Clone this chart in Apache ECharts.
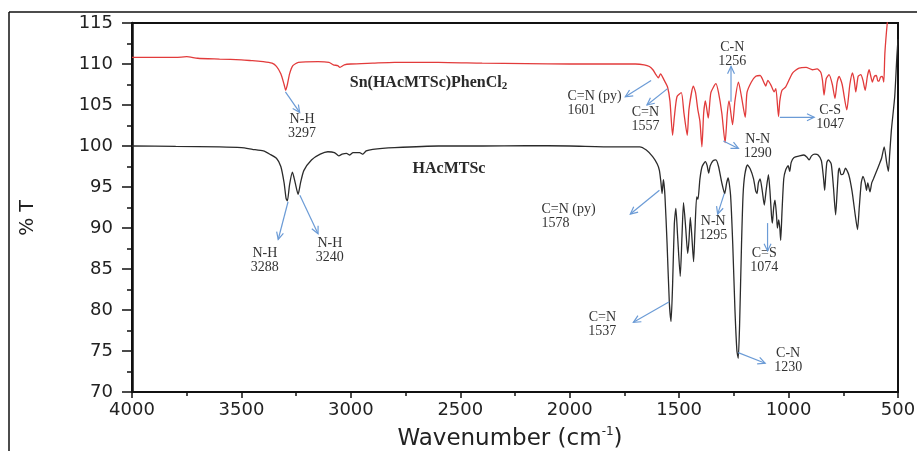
<!DOCTYPE html>
<html>
<head>
<meta charset="utf-8">
<script src="https://cdn.jsdelivr.net/npm/echarts@6/dist/echarts.min.js"></script>
<style>
  html, body { margin: 0; padding: 0; background: #fff; }
  #irChart { width: 917px; height: 451px; }
</style>
</head>
<body>
<div id="irChart"></div>
<script>
// IR spectra: wavenumber (cm-1) and %T
const complexWave = [4000, 3900, 3800, 3750, 3700, 3600, 3500, 3450, 3400, 3360, 3340, 3320, 3305, 3298, 3290, 3280, 3265, 3240,
  3150, 3100, 3080, 3060, 3050, 3030, 3000, 2900, 2800, 2600, 2400, 2200, 2000, 1800, 1700, 1660, 1636, 1620, 1606, 1595,
  1585, 1568, 1553, 1542, 1530, 1522, 1510, 1490, 1478, 1463, 1455, 1435, 1425, 1415, 1405, 1396, 1388, 1380, 1367, 1355,
  1332, 1320, 1305, 1290, 1280, 1272, 1256, 1245, 1229, 1215, 1198, 1190, 1170, 1150, 1130, 1110, 1104, 1095, 1080, 1066,
  1058, 1046, 1040, 1030, 1013, 982, 952, 920, 891, 870, 853, 845, 838, 828, 815, 800, 788, 778, 769, 755, 734, 720, 708,
  700, 693, 682, 670, 660, 650, 640, 632, 625, 617, 608, 599, 593, 587, 580, 572, 565, 560, 549, 540];
const complexT = [110.8, 110.8, 110.8, 110.9, 110.7, 110.6, 110.5, 110.4, 110.3, 110.1, 109.7, 108.8, 107.5, 106.8, 107.5, 108.8, 109.8, 110.2,
  110.3, 110.2, 109.9, 109.8, 109.6, 109.9, 110.0, 110.1, 110.2, 110.2, 110.1, 110.05, 110.0, 110.0, 110.0, 109.9, 109.7, 109.3, 108.7, 108.3,
  108.8, 108.0, 107.2, 105.5, 101.3, 103.5, 106.0, 106.5, 104.0, 101.3, 104.5, 107.3, 106.5, 104.5, 103.0, 99.9, 104.0, 105.5, 103.4, 106.5,
  107.6, 106.5, 104.0, 100.4, 104.0, 105.5, 102.6, 105.5, 107.8, 106.0, 103.5, 106.5, 107.8, 108.5, 108.6, 107.6, 107.3, 108.0, 107.4, 106.6,
  107.0, 103.6, 105.5, 106.8, 107.2, 108.9, 109.5, 109.6, 109.3, 109.4, 109.0, 108.0, 106.2, 108.2, 108.7, 107.5, 105.8, 107.8, 108.5, 107.5, 104.4, 107.5, 108.9,
  108.0, 106.6, 108.5, 108.7, 108.0, 106.8, 108.5, 109.3, 108.6, 107.8, 108.5, 108.6, 108.0, 107.9, 108.4, 108.5, 107.8, 111.3, 115.0, 117.0];

const ligandWave = [4000, 3800, 3600, 3500, 3450, 3400, 3370, 3340, 3320, 3305, 3296, 3290, 3280, 3267, 3255, 3241, 3230, 3215,
  3180, 3140, 3105, 3075, 3055, 3040, 3020, 3005, 2990, 2960, 2945, 2930, 2900, 2800, 2600, 2400, 2200, 2000, 1800, 1680,
  1650, 1621, 1600, 1590, 1583, 1578, 1572, 1565, 1555, 1545, 1537, 1530, 1522, 1515, 1507, 1495, 1487, 1480, 1470, 1461,
  1455, 1449, 1442, 1434, 1428, 1420, 1414, 1405, 1395, 1380, 1372, 1365, 1358, 1345, 1332, 1320, 1305, 1292, 1283, 1276,
  1265, 1255, 1245, 1236, 1230, 1224, 1215, 1208, 1200, 1188, 1175, 1160, 1150, 1144, 1138, 1130, 1120, 1111, 1103, 1092,
  1085, 1078, 1074, 1068, 1062, 1055, 1051, 1045, 1040, 1036, 1030, 1022, 1013, 1002, 995, 988, 975, 950, 930, 915, 906,
  895, 880, 865, 850, 840, 835, 830, 825, 818, 805, 795, 785, 778, 772, 768, 760, 750, 740, 725, 710, 695, 685, 677, 668,
  660, 650, 644, 638, 628, 620, 612, 600, 585, 575, 563, 552, 544, 538, 530, 515, 505, 500];
const ligandT = [100.0, 99.95, 99.9, 99.8, 99.6, 99.4, 99.0, 98.5, 97.5, 95.5, 93.6, 93.3, 95.3, 96.8, 95.6, 94.1, 95.5, 97.0,
  98.3, 99.0, 99.3, 99.2, 98.8, 99.0, 99.1, 98.9, 99.2, 99.2, 99.0, 99.4, 99.6, 99.8, 100.0, 100.0, 100.05, 100.0, 99.9, 99.9,
  99.5, 98.7, 97.8, 97.0, 95.5, 94.2, 95.9, 94.0, 88.0, 81.0, 78.6, 83.0, 90.5, 92.4, 89.0, 84.1, 89.0, 93.1, 90.0, 86.9,
  88.5, 91.3, 89.0, 85.9, 89.5, 93.8, 93.5, 96.0, 97.5, 98.1, 97.6, 96.7, 97.6, 98.2, 98.3, 97.5, 95.5, 94.2, 95.5, 96.1,
  94.0, 88.0, 80.0, 75.0, 74.1, 78.0, 88.0, 94.0, 96.5, 97.7, 97.2, 96.0, 94.5, 94.2, 95.5, 96.0, 94.5, 92.8, 94.5, 96.5,
  94.5, 91.5, 90.6, 92.5, 93.4, 91.5, 90.0, 91.0, 90.0, 88.5, 92.0, 96.0, 97.1, 97.6, 96.9, 98.0, 98.6, 98.8, 98.9, 98.6, 98.3,
  98.8, 99.0, 98.9, 98.2, 96.0, 94.6, 96.5, 98.0, 98.3, 97.8, 95.0, 91.6, 94.5, 97.0, 97.3, 96.5, 96.6, 97.3, 96.5, 94.5, 91.5, 89.8, 92.5, 95.5,
  96.3, 95.5, 94.6, 95.5, 94.4, 95.5, 96.0, 96.8, 97.8, 98.5, 99.9, 98.0, 96.9, 99.0, 102.0, 106.0, 111.0, 113.0];

const xTicks = [500, 4000, 500];   // min, max, interval (axis is reversed)
const yTicks = [70, 115, 5];

// band labels: text, label position (wavenumber, %T), align, arrow from, arrow to
const bandLabels = [
  ['N-H\n3297', 3223, 102.4, 'center', [3299, 106.6], [3234, 104.1]],
  ['N-H\n3288', 3393, 86.0, 'center', [3287, 93.2], [3332, 88.6]],
  ['N-H\n3240', 3096, 87.3, 'center', [3233, 94.0], [3150, 89.3]],
  ['C=N (py)\n1601', 2010, 105.2, 'left', [1628, 108.0], [1746, 106.0]],
  ['C=N\n1557', 1654, 103.3, 'center', [1553, 107.0], [1647, 105.0]],
  ['C-N\n1256', 1257, 111.2, 'center', [1263, 105.4], [1263, 109.7]],
  ['N-N\n1290', 1141, 99.9, 'center', [1298, 100.6], [1229, 99.7]],
  ['C-S\n1047', 810, 103.5, 'center', [1040, 103.5], [883, 103.5]],
  ['C=N (py)\n1578', 2129, 91.4, 'left', [1590, 94.6], [1723, 91.7]],
  ['C=N\n1537', 1851, 78.2, 'center', [1545, 81.0], [1709, 78.5]],
  ['N-N\n1295', 1344, 89.9, 'center', [1294, 94.2], [1324, 91.7]],
  ['C=S\n1074', 1111, 86.0, 'center', [1096, 90.6], [1096, 87.2]],
  ['C-N\n1230', 1002, 73.9, 'center', [1230, 74.8], [1107, 73.5]]
];

const chartDom = document.getElementById('irChart');
const irChart = echarts.init(chartDom);

const axisFont = 'DejaVu Sans';
const serifFont = 'Liberation Serif';

irChart.setOption({
  animation: false,
  backgroundColor: '#fff',
  grid: {
    left: 132, right: 19, top: 23, bottom: 59,
    show: true, borderColor: '#111', borderWidth: 2,
    containLabel: false, outerBoundsMode: 'none'
  },
  xAxis: {
    type: 'value',
    inverse: true,
    min: xTicks[0], max: xTicks[1], interval: xTicks[2],
    axisLine: {show: true, lineStyle: {color: '#111', width: 2}},
    axisTick: {show: true, inside: false, length: 6, lineStyle: {color: '#111', width: 1.5}},
    minorTick: {show: true, splitNumber: 2, length: 4, lineStyle: {color: '#111', width: 1.5}},
    axisLabel: {color: '#222', fontFamily: axisFont, fontSize: 18, margin: 9, formatter: v => String(v)},
    splitLine: {show: false}
  },
  yAxis: {
    type: 'value',
    min: yTicks[0], max: yTicks[1], interval: yTicks[2],
    axisLine: {show: true, lineStyle: {color: '#111', width: 2.5}},
    axisTick: {show: true, inside: false, length: 10, lineStyle: {color: '#111', width: 1.5}},
    minorTick: {show: true, splitNumber: 2, length: 5, lineStyle: {color: '#111', width: 1.5}},
    axisLabel: {color: '#222', fontFamily: axisFont, fontSize: 18, margin: 19, formatter: v => String(v)},
    splitLine: {show: false}
  },
  series: [
    {
      name: 'Sn(HAcMTSc)PhenCl2',
      type: 'line',
      symbol: 'none',
      smooth: 0.2,
      clip: true,
      lineStyle: {color: '#e23b3b', width: 1.3},
      data: complexWave.map((w, i) => [w, complexT[i]])
    },
    {
      name: 'HAcMTSc',
      type: 'line',
      symbol: 'none',
      smooth: 0.2,
      clip: true,
      lineStyle: {color: '#2b2b2b', width: 1.3},
      data: ligandWave.map((w, i) => [w, ligandT[i]])
    }
  ]
});

// annotation layer (arrows + labels) placed through the chart's own scales
function arrowParts(p1, p2) {
  const ang = Math.atan2(p2[1] - p1[1], p2[0] - p1[0]);
  const len = 8, spread = Math.PI / 7;
  const a = [p2[0] - len * Math.cos(ang - spread), p2[1] - len * Math.sin(ang - spread)];
  const b = [p2[0] - len * Math.cos(ang + spread), p2[1] - len * Math.sin(ang + spread)];
  const st = {stroke: '#6b9bd6', lineWidth: 1.2, fill: null};
  return [
    {type: 'line', silent: true, z: 50, shape: {x1: p1[0], y1: p1[1], x2: p2[0], y2: p2[1]}, style: st},
    {type: 'polyline', silent: true, z: 50, shape: {points: [a, p2, b]}, style: st}
  ];
}

const px = (w, t) => irChart.convertToPixel({gridIndex: 0}, [w, t]);
const graphics = [
  // outer frame of the original figure
  {type: 'line', silent: true, shape: {x1: 9, y1: 12, x2: 917, y2: 12}, style: {stroke: '#111', lineWidth: 1.5}},
  {type: 'line', silent: true, shape: {x1: 9, y1: 12, x2: 9, y2: 451}, style: {stroke: '#111', lineWidth: 1.5}},
  {
    type: 'text', silent: true, x: 28, y: 218, rotation: Math.PI / 2,
    style: {text: '% T', font: '19px "DejaVu Sans"', fill: '#222', align: 'center', verticalAlign: 'middle'}
  },
  {
    type: 'text', silent: true, x: 510, y: 439,
    style: {
      text: '{m|Wavenumber (cm}{s|-1}{m|)}',
      align: 'center', verticalAlign: 'middle',
      rich: {
        m: {fontFamily: axisFont, fontSize: 23, fill: '#222', lineHeight: 26},
        s: {fontFamily: axisFont, fontSize: 12, fill: '#222', lineHeight: 14, verticalAlign: 'top'}
      }
    }
  }
];

const snPos = px(3005, 107.7);
graphics.push({
  type: 'text', silent: true, x: snPos[0], y: snPos[1],
  style: {
    text: '{m|Sn(HAcMTSc)PhenCl}{s|2}',
    align: 'left', verticalAlign: 'middle',
    rich: {
      m: {fontFamily: serifFont, fontSize: 16, fontWeight: 'bold', fill: '#2a2a2a', lineHeight: 18},
      s: {fontFamily: serifFont, fontSize: 11, fontWeight: 'bold', fill: '#2a2a2a', lineHeight: 10, verticalAlign: 'bottom'}
    }
  }
});
const ligPos = px(2718, 97.2);
graphics.push({
  type: 'text', silent: true, x: ligPos[0], y: ligPos[1],
  style: {text: 'HAcMTSc', font: 'bold 16px "Liberation Serif"', fill: '#2a2a2a', align: 'left', verticalAlign: 'middle'}
});

bandLabels.forEach(function (b) {
  const tp = px(b[1], b[2]);
  graphics.push({
    type: 'text', silent: true, z: 50, x: tp[0], y: tp[1],
    style: {text: b[0], font: '14px "Liberation Serif"', lineHeight: 14, fill: '#333', align: b[3], verticalAlign: 'middle'}
  });
  const p1 = px(b[4][0], b[4][1]);
  const p2 = px(b[5][0], b[5][1]);
  arrowParts(p1, p2).forEach(g => graphics.push(g));
});

irChart.setOption({graphic: graphics});
</script>
</body>
</html>
